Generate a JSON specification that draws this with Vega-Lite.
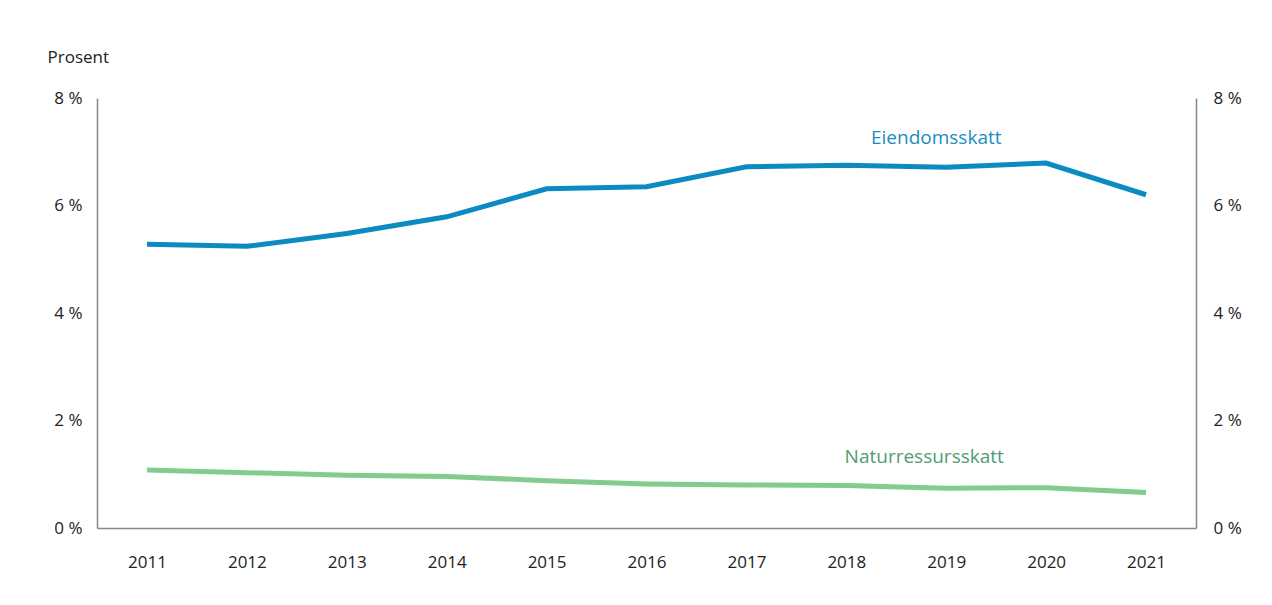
{
  "$schema": "https://vega.github.io/schema/vega-lite/v6.json",
  "width": 1099,
  "height": 430,
  "autosize": {"type": "none"},
  "padding": {"left": 97, "top": 98, "right": 76, "bottom": 77},
  "background": "white",
  "config": {
    "view": {"stroke": null},
    "font": "Open Sans",
    "axis": {"labelFont": "Open Sans", "labelFontSize": 17, "labelColor": "#222", "domainColor": "#888", "domainWidth": 1.5, "ticks": false, "grid": false}
  },
  "datasets": {
    "series": [
      {"year": "2011", "series": "Eiendomsskatt", "value": 5.28},
      {"year": "2012", "series": "Eiendomsskatt", "value": 5.24},
      {"year": "2013", "series": "Eiendomsskatt", "value": 5.48},
      {"year": "2014", "series": "Eiendomsskatt", "value": 5.79},
      {"year": "2015", "series": "Eiendomsskatt", "value": 6.31},
      {"year": "2016", "series": "Eiendomsskatt", "value": 6.35},
      {"year": "2017", "series": "Eiendomsskatt", "value": 6.72},
      {"year": "2018", "series": "Eiendomsskatt", "value": 6.75},
      {"year": "2019", "series": "Eiendomsskatt", "value": 6.71},
      {"year": "2020", "series": "Eiendomsskatt", "value": 6.79},
      {"year": "2021", "series": "Eiendomsskatt", "value": 6.20},
      {"year": "2011", "series": "Naturressursskatt", "value": 1.08},
      {"year": "2012", "series": "Naturressursskatt", "value": 1.03},
      {"year": "2013", "series": "Naturressursskatt", "value": 0.98},
      {"year": "2014", "series": "Naturressursskatt", "value": 0.96},
      {"year": "2015", "series": "Naturressursskatt", "value": 0.88},
      {"year": "2016", "series": "Naturressursskatt", "value": 0.82},
      {"year": "2017", "series": "Naturressursskatt", "value": 0.80},
      {"year": "2018", "series": "Naturressursskatt", "value": 0.79},
      {"year": "2019", "series": "Naturressursskatt", "value": 0.74},
      {"year": "2020", "series": "Naturressursskatt", "value": 0.75},
      {"year": "2021", "series": "Naturressursskatt", "value": 0.66}
    ],
    "labels": [
      {"year": "2019", "series": "Eiendomsskatt", "value": 7.25},
      {"year": "2019", "series": "Naturressursskatt", "value": 1.32}
    ]
  },
  "encoding": {
    "x": {"field": "year", "type": "ordinal", "scale": {"type": "point", "padding": 0.5},
      "axis": {"title": null, "labelAngle": 0, "labelPadding": 26, "domain": true}}
  },
  "layer": [
    {
      "data": {"name": "series"},
      "mark": {"type": "line", "strokeWidth": 5, "strokeCap": "butt"},
      "encoding": {
        "y": {"field": "value", "type": "quantitative", "scale": {"domain": [0, 8]},
          "axis": {"orient": "left", "values": [0, 2, 4, 6, 8], "labelExpr": "datum.value + ' %'", "labelPadding": 15,
            "title": "Prosent", "titleAngle": 0, "titleAlign": "left", "titleBaseline": "middle", "titleX": -50, "titleY": -41,
            "titleFont": "Open Sans", "titleFontSize": 17, "titleFontWeight": "normal", "titleColor": "#222"}},
        "color": {"field": "series", "type": "nominal", "scale": {"domain": ["Eiendomsskatt", "Naturressursskatt"], "range": ["#0C8BC2", "#84CB8E"]}, "legend": null}
      }
    },
    {
      "data": {"name": "labels"},
      "transform": [{"filter": "datum.series == 'Eiendomsskatt'"}],
      "mark": {"type": "text", "fontSize": 19, "align": "center", "baseline": "middle", "dx": -10, "color": "#1B8DC1"},
      "encoding": {
        "y": {"field": "value", "type": "quantitative", "scale": {"domain": [0, 8]},
          "axis": {"orient": "right", "values": [0, 2, 4, 6, 8], "labelExpr": "datum.value + ' %'", "labelPadding": 17, "title": null}},
        "text": {"field": "series"}
      }
    },
    {
      "data": {"name": "labels"},
      "transform": [{"filter": "datum.series == 'Naturressursskatt'"}],
      "mark": {"type": "text", "fontSize": 19, "align": "center", "baseline": "middle", "dx": -22, "color": "#4F9C72"},
      "encoding": {
        "y": {"field": "value", "type": "quantitative", "scale": {"domain": [0, 8]}, "axis": null},
        "text": {"field": "series"}
      }
    }
  ],
  "resolve": {"scale": {"y": "independent", "color": "independent"}}
}
